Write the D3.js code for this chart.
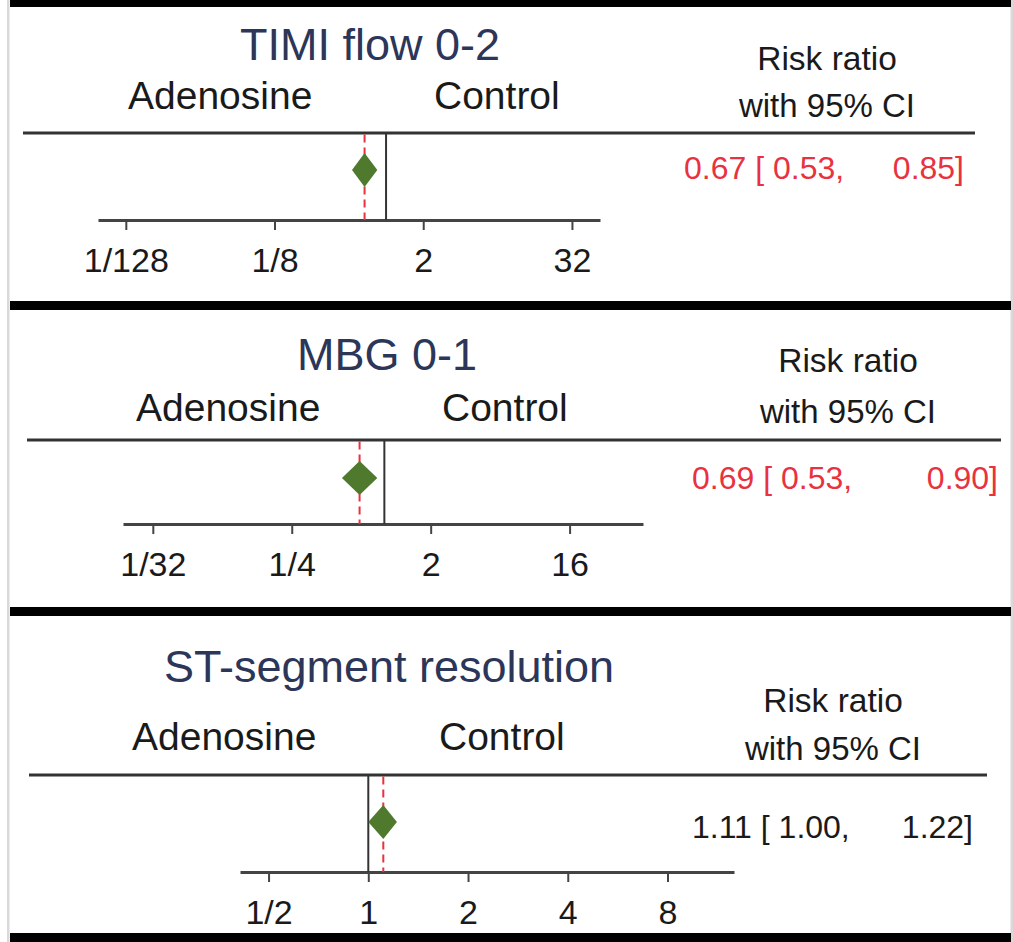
<!DOCTYPE html>
<html>
<head>
<meta charset="utf-8">
<script src="https://cdn.jsdelivr.net/npm/d3@7"></script>
<style>
  html, body { margin: 0; padding: 0; background: #fff; }
  svg { display: block; font-family: "Liberation Sans", Arial, Helvetica, sans-serif; }
</style>
</head>
<body>
<svg id="chart" width="1013" height="942"></svg>
<script>
// Outcomes and pooled risk ratios (adenosine vs control)
const outcomes = ["TIMI flow 0-2", "MBG 0-1", "ST-segment resolution"];
const riskRatio = [0.67, 0.69, 1.11];
const ciLower = [0.53, 0.53, 1.00];
const ciUpper = [0.85, 0.90, 1.22];
const ciLowerText = ["0.53", "0.53", "1.00"];
const ciUpperText = ["0.85", "0.90", "1.22"];
const rrText = ["0.67", "0.69", "1.11"];

// Axis ticks for each panel
const tickValues = [
  [1/128, 1/8, 2, 32],
  [1/32, 1/4, 2, 16],
  [1/2, 1, 2, 4, 8]
];
const tickLabels = [
  ["1/128", "1/8", "2", "32"],
  ["1/32", "1/4", "2", "16"],
  ["1/2", "1", "2", "4", "8"]
];
// Extent of each axis line (risk ratio at each end)
const axisExtent = [
  [1/215, 54],
  [1/50, 48],
  [0.41, 12.7]
];

// Panel layout
const layout = [
  { title: [370, 60], ado: [128, 109], ctl: [434, 109], rr: [827, 70, 117],
    header: [23, 975, 133], axis: [98, 600, 220], diamondY: 170, ci: [684, 964, 179] },
  { title: [387, 370], ado: [136, 421], ctl: [442, 421], rr: [848, 372, 423],
    header: [27, 1001, 440], axis: [123, 643, 524], diamondY: 478, ci: [692, 998, 489] },
  { title: [389, 682], ado: [132, 750], ctl: [439, 750], rr: [833, 712, 760],
    header: [29, 987, 775], axis: [240, 734, 872], diamondY: 822, ci: [692, 973, 838] }
];
const separators = [0, 301, 607, 933];

const svg = d3.select("#chart");
const W = 1013, H = 942;

svg.append("rect").attr("width", W).attr("height", H).attr("fill", "#fff");

// frame: thin grey side rules and heavy black panel separators
svg.append("rect").attr("x", 7).attr("y", 0).attr("width", 2.5).attr("height", H).attr("fill", "#d9d9d9");
svg.append("rect").attr("x", 1010.5).attr("y", 0).attr("width", 2.5).attr("height", H).attr("fill", "#d9d9d9");
separators.forEach((y, i) => {
  svg.append("rect")
    .attr("x", 10).attr("y", y)
    .attr("width", 1001).attr("height", i === 0 ? 7 : 9)
    .attr("fill", "#000");
});

const textColor = "#1a1a1a";
const titleColor = "#2c3659";
const sigColor = "#e8323f";
const diamondColor = "#4f7a2e";

outcomes.forEach((name, i) => {
  const L = layout[i];
  const g = svg.append("g");

  const x = d3.scaleLog().base(2).domain(axisExtent[i]).range([L.axis[0], L.axis[1]]);

  // titles and headers
  g.append("text")
    .attr("x", L.title[0]).attr("y", L.title[1])
    .attr("text-anchor", "middle")
    .attr("font-size", 45).attr("fill", titleColor)
    .text(name);
  g.append("text").attr("x", L.ado[0]).attr("y", L.ado[1])
    .attr("font-size", 39).attr("fill", textColor).text("Adenosine");
  g.append("text").attr("x", L.ctl[0]).attr("y", L.ctl[1])
    .attr("font-size", 39).attr("fill", textColor).text("Control");
  g.append("text").attr("x", L.rr[0]).attr("y", L.rr[1])
    .attr("text-anchor", "middle").attr("font-size", 33.5).attr("fill", textColor).text("Risk ratio");
  g.append("text").attr("x", L.rr[0]).attr("y", L.rr[2])
    .attr("text-anchor", "middle").attr("font-size", 33).attr("fill", textColor).text("with 95% CI");

  // header rule
  g.append("line")
    .attr("x1", L.header[0]).attr("x2", L.header[1])
    .attr("y1", L.header[2]).attr("y2", L.header[2])
    .attr("stroke", "#333").attr("stroke-width", 3);

  // axis
  const axis = d3.axisBottom(x)
    .tickValues(tickValues[i])
    .tickFormat((d, k) => tickLabels[i][k])
    .tickSize(10)
    .tickSizeOuter(0)
    .tickPadding(18);
  const ag = g.append("g").attr("transform", `translate(0,${L.axis[2]})`).call(axis);
  ag.select(".domain").attr("stroke", "#444").attr("stroke-width", 3);
  ag.selectAll(".tick line").attr("stroke", "#444").attr("stroke-width", 2);
  ag.selectAll(".tick text")
    .attr("font-size", 34)
    .attr("font-family", "'Liberation Sans', Arial, sans-serif")
    .attr("fill", textColor);

  // line of no effect
  g.append("line")
    .attr("x1", x(1)).attr("x2", x(1))
    .attr("y1", L.header[2]).attr("y2", L.axis[2])
    .attr("stroke", "#333").attr("stroke-width", 2);

  // overall effect (dashed)
  g.append("line")
    .attr("x1", x(riskRatio[i])).attr("x2", x(riskRatio[i]))
    .attr("y1", L.header[2] + 1.5).attr("y2", L.axis[2])
    .attr("stroke", sigColor).attr("stroke-width", 2)
    .attr("stroke-dasharray", "8,5");

  // pooled estimate diamond spanning the CI
  const cy = L.diamondY, hh = 17;
  const pts = [
    [x(ciLower[i]), cy],
    [x(riskRatio[i]), cy - hh],
    [x(ciUpper[i]), cy],
    [x(riskRatio[i]), cy + hh]
  ];
  g.append("path")
    .attr("d", d3.line()(pts) + "Z")
    .attr("fill", diamondColor);

  // estimate text
  const col = ciUpper[i] < 1 ? sigColor : textColor;
  g.append("text").attr("x", L.ci[0]).attr("y", L.ci[2])
    .attr("font-size", 32).attr("fill", col)
    .text(`${rrText[i]} [ ${ciLowerText[i]},`);
  g.append("text").attr("x", L.ci[1]).attr("y", L.ci[2])
    .attr("text-anchor", "end")
    .attr("font-size", 32).attr("fill", col)
    .text(`${ciUpperText[i]}]`);
});
</script>
</body>
</html>
